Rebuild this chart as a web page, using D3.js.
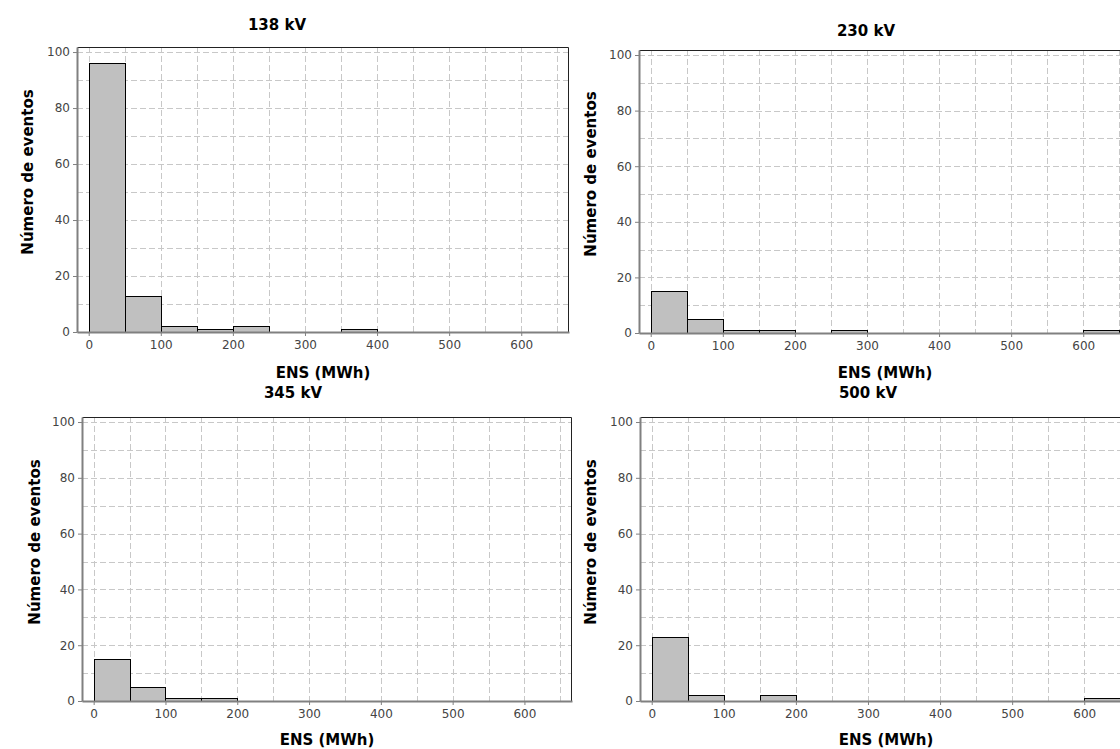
<!DOCTYPE html>
<html>
<head>
<meta charset="utf-8">
<script src="https://cdn.jsdelivr.net/npm/d3@7/dist/d3.min.js"></script>
<style>
  html, body { margin: 0; padding: 0; background: #fff; overflow: hidden; }
  svg { display: block; font-family: "DejaVu Sans", Verdana, sans-serif; }
</style>
</head>
<body>
<svg id="chart" width="1120" height="749"></svg>
<script>
// Histogram bins of energy not supplied (MWh), 50 MWh wide
const binEdges = [0, 50, 100, 150, 200, 250, 300, 350, 400, 450, 500, 550, 600, 650];

// Number of events per bin, one series per voltage level
const voltages = ["138 kV", "230 kV", "345 kV", "500 kV"];
const counts138 = [96, 13, 2, 1, 2, 0, 0, 1, 0, 0, 0, 0, 0];
const counts230 = [15, 5, 1, 1, 0, 1, 0, 0, 0, 0, 0, 0, 1];
const counts345 = [15, 5, 1, 1, 0, 0, 0, 0, 0, 0, 0, 0, 0];
const counts500 = [23, 2, 0, 2, 0, 0, 0, 0, 0, 0, 0, 0, 1];

const xTicks = [0, 100, 200, 300, 400, 500, 600];
const yTicks = [0, 20, 40, 60, 80, 100];
const xGrid = d3.range(0, 651, 50);
const yGrid = d3.range(0, 101, 10);

const xLabel = "ENS (MWh)";
const yLabel = "Número de eventos";

const seriesList = [counts138, counts230, counts345, counts500];

// Panel frames (plot area in pixels) and title/label anchors
const panels = [
  { left: 77,  top: 47,  width: 492, height: 285, titleX: 277, titleY: 30,  yLabX: 28, yLabY: 172, xLabY: 378 },
  { left: 639, top: 50,  width: 492, height: 283, titleX: 866, titleY: 36,  yLabX: 591, yLabY: 174, xLabY: 378 },
  { left: 82,  top: 417, width: 490, height: 284, titleX: 293, titleY: 398, yLabX: 35, yLabY: 542, xLabY: 745 },
  { left: 640, top: 417, width: 492, height: 284, titleX: 868, titleY: 398, yLabX: 591, yLabY: 542, xLabY: 745 }
];

const svg = d3.select("#chart");

seriesList.forEach((counts, i) => {
  const p = panels[i];
  const x = d3.scaleLinear().domain([-16.25, 666.25]).range([0, p.width]);
  const y = d3.scaleLinear().domain([0, 101.8]).range([p.height, 0]);

  const g = svg.append("g").attr("transform", `translate(${p.left},${p.top})`);

  // dashed grid
  g.append("g").selectAll("line.v").data(xGrid).join("line")
    .attr("x1", d => Math.round(x(d)) + 0.5).attr("x2", d => Math.round(x(d)) + 0.5)
    .attr("y1", 0).attr("y2", p.height)
    .attr("stroke", "#c8c8c8").attr("stroke-width", 1).attr("stroke-dasharray", "6,3");
  g.append("g").selectAll("line.h").data(yGrid).join("line")
    .attr("y1", d => Math.round(y(d)) + 0.5).attr("y2", d => Math.round(y(d)) + 0.5)
    .attr("x1", 0).attr("x2", p.width)
    .attr("stroke", "#c8c8c8").attr("stroke-width", 1).attr("stroke-dasharray", "6,3");

  // histogram bars
  const bins = counts.map((c, k) => ({ x0: binEdges[k], x1: binEdges[k + 1], c }));
  g.append("g").selectAll("rect").data(bins.filter(b => b.c > 0)).join("rect")
    .attr("x", d => Math.round(x(d.x0)) + 0.5)
    .attr("y", d => Math.round(y(d.c)) + 0.5)
    .attr("width", d => Math.round(x(d.x1)) - Math.round(x(d.x0)))
    .attr("height", d => Math.round(y(0)) - Math.round(y(d.c)))
    .attr("fill", "#c0c0c0").attr("stroke", "#000").attr("stroke-width", 1);

  // top and right outline
  g.append("path")
    .attr("d", `M0.5,0.5H${p.width - 0.5}V${p.height}`)
    .attr("fill", "none").attr("stroke", "#222").attr("stroke-width", 1);

  // axes
  const xAxis = d3.axisBottom(x).tickValues(xTicks).tickSize(4).tickSizeOuter(0).tickPadding(4);
  const yAxis = d3.axisLeft(y).tickValues(yTicks).tickSize(4).tickSizeOuter(0).tickPadding(3);

  const gx = g.append("g").attr("transform", `translate(0,${p.height})`).call(xAxis);
  const gy = g.append("g").call(yAxis);

  [gx, gy].forEach(a => {
    a.select(".domain").attr("stroke", "#808080").attr("stroke-width", 2);
    a.selectAll(".tick line").attr("stroke", "#808080");
    a.selectAll(".tick text").attr("fill", "#444").attr("font-size", 12)
      .attr("font-family", "'DejaVu Sans', Verdana, sans-serif");
  });

  // title
  svg.append("text")
    .attr("x", p.titleX).attr("y", p.titleY)
    .attr("text-anchor", "middle")
    .attr("font-size", 15).attr("font-weight", "bold").attr("fill", "#000")
    .text(voltages[i]);

  // x-axis label
  svg.append("text")
    .attr("x", p.left + x(325)).attr("y", p.xLabY)
    .attr("text-anchor", "middle")
    .attr("font-size", 15).attr("font-weight", "bold").attr("fill", "#000")
    .text(xLabel);

  // y-axis label
  svg.append("text")
    .attr("transform", `translate(${p.yLabX + 5},${p.yLabY}) rotate(-90)`)
    .attr("text-anchor", "middle")
    .attr("font-size", 15).attr("font-weight", "bold").attr("fill", "#000")
    .text(yLabel);
});
</script>
</body>
</html>
